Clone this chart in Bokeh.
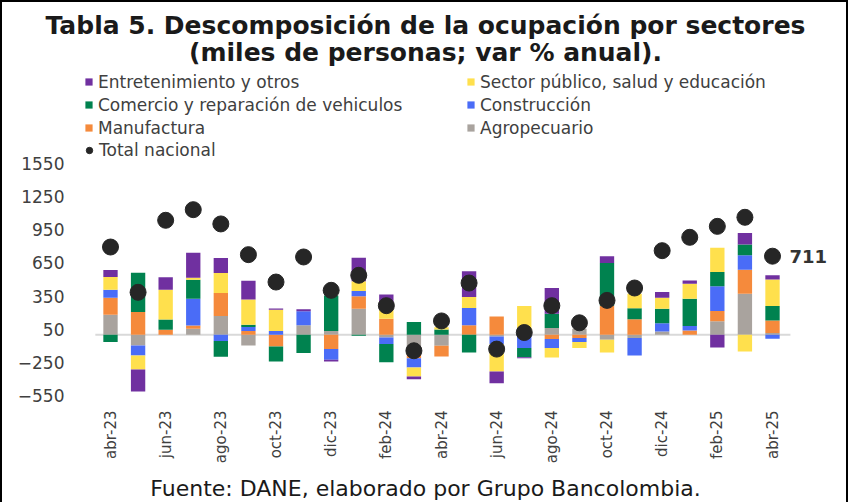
import numpy as np
from bokeh.plotting import figure
from bokeh.layouts import column
from bokeh.models import ColumnDataSource, Legend, LegendItem, Label, FixedTicker
from bokeh.core.properties import value
from bokeh.embed import file_html
from bokeh.resources import INLINE

months = ["abr-23", "may-23", "jun-23", "jul-23", "ago-23", "sep-23", "oct-23", "nov-23",
          "dic-23", "ene-24", "feb-24", "mar-24", "abr-24", "may-24", "jun-24", "jul-24",
          "ago-24", "sep-24", "oct-24", "nov-24", "dic-24", "ene-25", "feb-25", "mar-25", "abr-25"]

agropecuario = [181, -97, 0, 54, 169, -97, 0, 85, 33, 236, -24, -115, -100, 0, -15, 0,
                60, 54, -45, -30, 30, 0, 121, 372, 15]
manufactura = [154, 205, 45, 30, 208, 33, -106, 0, -130, 112, 145, -97, -97, 85, 166, 0,
               -39, -30, 263, 140, 0, 39, 94, 217, 115]
construccion = [72, -91, 0, 242, -57, 36, 33, 127, -97, 48, -60, -85, 0, 157, -70, -121,
                -82, -36, 0, -157, 75, 39, 223, 130, -36]
comercio = [-66, 356, 94, 172, -142, 21, -136, -166, 323, -10, -166, 115, 48, -160, 0, -82,
            130, 0, 387, 100, 130, 248, 130, 97, 130]
sector_publico = [115, -127, 269, 18, 181, 230, 193, 0, 0, 88, 90, -82, 20, 100, -248, 260,
                  -85, -54, -115, 130, 100, 136, 220, -151, 239]
entretenimiento = [63, -199, 112, 226, 136, 169, 12, 18, -15, 214, 130, -24, 0, 233, -106, -9,
                   233, 0, 60, 0, 51, 30, -115, 106, 39]
total_nacional = [794, 384, 1036, 1132, 1003, 725, 477, 704, 402, 538, 263, -145, 125, 468,
                  -130, 20, 263, 108, 311, 423, 761, 882, 981, 1063, 711]

y_ticks = [-550, -250, 50, 350, 650, 950, 1250, 1550]

series = [
    ("Agropecuario", agropecuario, "#A9A39E"),
    ("Manufactura", manufactura, "#F58A3C"),
    ("Construcción", construccion, "#4A6CF7"),
    ("Comercio y reparación de vehiculos", comercio, "#00824F"),
    ("Sector público, salud y educación", sector_publico, "#FFE04D"),
    ("Entretenimiento y otros", entretenimiento, "#7030A0"),
]

FONT = "DejaVu Sans"
n = len(months)
x = np.arange(n)

W = 844
HEAD = 66          # header strip (title)
FB_G = 399         # frame bottom, global canvas px
BOT = 66           # room for the x axis
FOOT = 500 - (FB_G + BOT)  # footer strip
MAIN_H = FB_G - HEAD + BOT
FL, FR = 76, 834

PX_PER_UNIT = 232 / 2100.0
y_top = 1550 + (161 - HEAD) / PX_PER_UNIT
y_bot = -550 - (FB_G - 393) / PX_PER_UNIT
PX_PER_IDX = 662 / 24.0
x_lo = -(108 - FL) / PX_PER_IDX
x_hi = 24 + (FR - 770) / PX_PER_IDX


def no_align(fig):
    try:
        fig.frame_align = False
    except Exception:
        pass


def strip(height):
    s = figure(width=W, height=height, output_backend="svg", toolbar_location=None,
               x_range=(0, 1), y_range=(0, 1), x_axis_location=None, y_axis_location=None,
               min_border=0, outline_line_color=None, background_fill_color="white",
               border_fill_color="white")
    s.grid.visible = False
    no_align(s)
    return s


# ---- header with the title
head = strip(HEAD)
for txt, ty in [("Tabla 5. Descomposición de la ocupación por sectores", 23),
                ("(miles de personas; var % anual).", 50)]:
    head.add_layout(Label(x=423, y=HEAD - ty, x_units="screen", y_units="screen",
                          text=txt, text_align="center", text_baseline="middle",
                          text_font=FONT, text_font_size="25px", text_font_style="bold",
                          text_color="#1a1a1a"))

# ---- main chart
p = figure(width=W, height=MAIN_H, output_backend="svg", toolbar_location=None,
           x_range=(x_lo, x_hi), y_range=(y_bot, y_top),
           min_border_left=FL, min_border_right=W - FR, min_border_top=0,
           min_border_bottom=BOT, background_fill_color="white",
           border_fill_color="white", outline_line_color=None)
p.grid.visible = False
no_align(p)

p.segment(x0=[x[0] - 0.55], x1=[x[-1] + 0.65], y0=[0], y1=[0],
          line_color="#D9D9D9", line_width=2)

pos_base = np.zeros(n)
neg_base = np.zeros(n)
rends = {}
for name, vals, color in series:
    v = np.array(vals, dtype=float)
    bottom = np.where(v >= 0, pos_base, neg_base)
    top = bottom + v
    pos_base = pos_base + np.clip(v, 0, None)
    neg_base = neg_base + np.clip(v, None, 0)
    src = ColumnDataSource(dict(x=x, bottom=bottom, top=top))
    rends[name] = p.vbar(x="x", bottom="bottom", top="top", width=0.52, source=src,
                         fill_color=color, line_color=None)

dots = p.scatter(x=x, y=total_nacional, size=16, marker="circle",
                 fill_color="#262626", line_color="#262626")

p.text(x=[x[-1]], y=[total_nacional[-1]], text=[str(total_nacional[-1])],
       x_offset=17, text_baseline="middle", text_align="left",
       text_font=value(FONT), text_font_size="18px", text_font_style="bold",
       text_color="#333333")

p.yaxis.ticker = FixedTicker(ticks=y_ticks)
p.yaxis.axis_line_color = None
p.yaxis.major_tick_line_color = None
p.yaxis.minor_tick_line_color = None
p.yaxis.major_label_standoff = 8
p.yaxis.major_label_text_font = FONT
p.yaxis.major_label_text_font_size = "17px"
p.yaxis.major_label_text_color = "#404040"

p.xaxis.ticker = FixedTicker(ticks=list(range(0, n, 2)))
p.xaxis.major_label_overrides = {i: months[i] for i in range(0, n, 2)}
p.xaxis.major_label_orientation = np.pi / 2
p.xaxis.axis_line_color = None
p.xaxis.major_tick_line_color = None
p.xaxis.minor_tick_line_color = None
p.xaxis.major_label_standoff = 3
p.xaxis.major_label_text_font = FONT
p.xaxis.major_label_text_font_size = "15px"
p.xaxis.major_label_text_color = "#404040"


def mk_legend(items, loc, glyph=9, standoff=5):
    return Legend(items=items, location=loc, orientation="vertical",
                  label_text_font=FONT, label_text_font_size="17px",
                  label_text_color="#404040", glyph_width=glyph, glyph_height=glyph,
                  label_height=19, spacing=3, padding=0, margin=0,
                  label_standoff=standoff, background_fill_alpha=0, border_line_color=None)


col1 = [LegendItem(label="Entretenimiento y otros", renderers=[rends["Entretenimiento y otros"]]),
        LegendItem(label="Comercio y reparación de vehiculos", renderers=[rends["Comercio y reparación de vehiculos"]]),
        LegendItem(label="Manufactura", renderers=[rends["Manufactura"]])]
col1b = [LegendItem(label="Total nacional", renderers=[dots])]
col2 = [LegendItem(label="Sector público, salud y educación", renderers=[rends["Sector público, salud y educación"]]),
        LegendItem(label="Construcción", renderers=[rends["Construcción"]]),
        LegendItem(label="Agropecuario", renderers=[rends["Agropecuario"]])]
p.add_layout(mk_legend(col1, (6, FB_G - 135.5)))
p.add_layout(mk_legend(col1b, (3, FB_G - 157.5), glyph=16, standoff=2))
p.add_layout(mk_legend(col2, (388, FB_G - 135.5)))

# ---- footer
foot = strip(FOOT)
foot.add_layout(Label(x=423, y=500 - 486, x_units="screen", y_units="screen",
                      text="Fuente: DANE, elaborado por Grupo Bancolombia.",
                      text_align="center", text_baseline="middle",
                      text_font=FONT, text_font_size="22px", text_color="#1a1a1a"))

page = column(head, p, foot, spacing=0)
page.styles = {"border": "2px solid black", "border-bottom": "none"}

open("out.html", "w").write(file_html(page, INLINE))
